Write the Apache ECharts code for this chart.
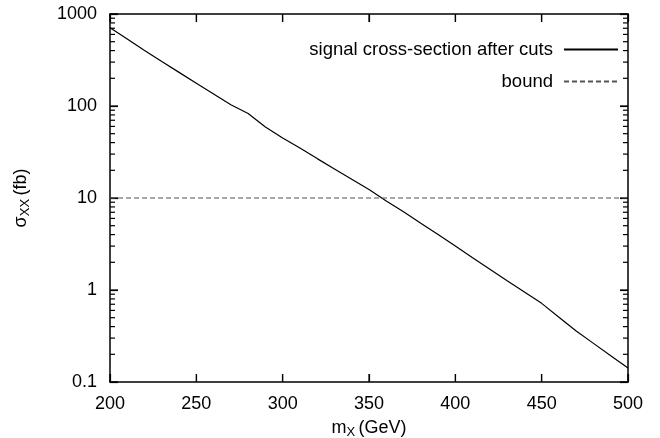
<!DOCTYPE html>
<html>
<head>
<meta charset="utf-8">
<script src="https://cdn.jsdelivr.net/npm/echarts@6/dist/echarts.min.js"></script>
<style>
	html, body { margin: 0; padding: 0; background: #ffffff; }
	#chart_1 { width: 660px; height: 438px; }
</style>
</head>
<body>
<div id="chart_1"></div>
<script>
// masses (GeV) and signal cross-section after cuts (fb)
var mass = [200, 210, 220, 230, 240, 250, 260, 270, 280, 290, 300, 310, 320, 330, 340, 350,
	360, 370, 380, 390, 400, 410, 420, 430, 440, 450, 460, 470, 480, 490, 500];
var sigma = [710, 535, 400, 304, 232, 177, 135, 103, 83, 59, 45, 35, 26.8, 20.7, 16, 12.4,
	9.3, 7.1, 5.3, 4.0, 3.0, 2.24, 1.68, 1.26, 0.95, 0.716, 0.506, 0.358, 0.263, 0.193, 0.142];
// the bound
var boundMass = [200, 500];
var boundValue = [10, 10];
// axis ticks
var xTicks = [200, 250, 300, 350, 400, 450, 500];
var yDecades = [0.1, 1, 10, 100, 1000];

var FONT = '"Liberation Sans", Arial, sans-serif';

function pairs(xs, ys) {
	var t = [];
	for (var i = 0; i < xs.length; i++) {
		t.push([xs[i], ys[i]]);
	}
	return t;
}
function axisLine() {
	return { show: true, onZero: false, lineStyle: { color: '#000', width: 1.5 } };
}
function majorTick() {
	return { show: true, inside: true, length: 8, lineStyle: { color: '#000', width: 1.2 } };
}

var dom = document.getElementById("chart_1");
var myChart = echarts.init(dom, null, { renderer: 'canvas' });

var option = {
	animation: false,
	backgroundColor: '#ffffff',
	textStyle: { fontFamily: FONT },
	grid: {
		left: 110,
		right: 32,
		top: 14,
		bottom: 56,
		containLabel: false,
		outerBoundsMode: 'none'
	},
	legend: {
		orient: 'vertical',
		right: 36,
		top: 35,
		align: 'right',
		itemWidth: 54,
		itemHeight: 16,
		itemGap: 13,
		itemStyle: { opacity: 0 },
		textStyle: { fontFamily: FONT, fontSize: 18.5, color: '#000', padding: [0, 6, 0, 0] },
		data: ['signal cross-section after cuts', 'bound']
	},
	xAxis: [{
		type: 'value',
		min: 200,
		max: 500,
		interval: 50,
		position: 'bottom',
		name: '{m|m}{s|X} {m|(GeV)}',
		nameLocation: 'middle',
		nameGap: 36,
		nameTextStyle: {
			rich: {
				m: { fontFamily: FONT, fontSize: 18, color: '#000' },
				s: { fontFamily: FONT, fontSize: 13, color: '#000', verticalAlign: 'bottom', padding: [8, 0, 0, 0] }
			}
		},
		axisLine: axisLine(),
		axisTick: majorTick(),
		splitLine: { show: false },
		axisLabel: {
			margin: 13,
			fontFamily: FONT,
			fontSize: 18,
			color: '#000',
			formatter: function (v) {
				return xTicks.indexOf(v) >= 0 ? String(v) : '';
			}
		}
	}, {
		type: 'value',
		min: 200,
		max: 500,
		interval: 50,
		position: 'top',
		axisLine: axisLine(),
		axisTick: majorTick(),
		axisLabel: { show: false },
		splitLine: { show: false }
	}],
	yAxis: [{
		type: 'log',
		logBase: 10,
		min: 0.1,
		max: 1000,
		position: 'left',
		name: '{m|σ}{s|XX} {m|(fb)}',
		nameLocation: 'middle',
		nameRotate: 90,
		nameGap: 78,
		nameTextStyle: {
			rich: {
				m: { fontFamily: FONT, fontSize: 18, color: '#000' },
				s: { fontFamily: FONT, fontSize: 13, color: '#000', verticalAlign: 'bottom', padding: [8, 0, 0, 0] }
			}
		},
		axisLine: axisLine(),
		axisTick: majorTick(),
		splitLine: { show: false },
		axisLabel: {
			margin: 13,
			fontFamily: FONT,
			fontSize: 18,
			color: '#000',
			formatter: function (v) {
				for (var i = 0; i < yDecades.length; i++) {
					if (Math.abs(v - yDecades[i]) < yDecades[i] * 1e-6) {
						return String(yDecades[i]);
					}
				}
				return '';
			}
		}
	}, {
		type: 'log',
		logBase: 10,
		min: 0.1,
		max: 1000,
		position: 'right',
		axisLine: axisLine(),
		axisTick: majorTick(),
		axisLabel: { show: false },
		splitLine: { show: false }
	}],
	series: [{
		name: 'signal cross-section after cuts',
		type: 'line',
		xAxisIndex: 0,
		yAxisIndex: 0,
		symbol: 'none',
		lineStyle: { color: '#000', width: 1.2, type: 'solid' },
		itemStyle: { color: '#000' },
		data: pairs(mass, sigma)
	}, {
		name: 'bound',
		type: 'line',
		xAxisIndex: 0,
		yAxisIndex: 0,
		symbol: 'none',
		lineStyle: { color: '#555', width: 1.2, type: [5, 3] },
		itemStyle: { color: '#555' },
		data: pairs(boundMass, boundValue)
	}]
};
myChart.setOption(option);

// tick marks on all four sides (gnuplot style), placed through the axis scales
var xl = myChart.convertToPixel({ xAxisIndex: 0 }, 200);
var xr = myChart.convertToPixel({ xAxisIndex: 0 }, 500);
var yb = myChart.convertToPixel({ yAxisIndex: 0 }, 0.1);
var yt = myChart.convertToPixel({ yAxisIndex: 0 }, 1000);
var ticks = [];
function tick(x1, y1, x2, y2) {
	ticks.push({ type: 'line', silent: true, shape: { x1: x1, y1: y1, x2: x2, y2: y2 }, style: { stroke: '#000', lineWidth: 1.2 } });
}
for (var i = 0; i < xTicks.length; i++) {
	var px = myChart.convertToPixel({ xAxisIndex: 0 }, xTicks[i]);
	tick(px, yb, px, yb - 8);
	tick(px, yt, px, yt + 8);
}
for (var d = 0; d < yDecades.length; d++) {
	var py = myChart.convertToPixel({ yAxisIndex: 0 }, yDecades[d]);
	tick(xl, py, xl + 8, py);
	tick(xr - 8, py, xr, py);
	if (d == yDecades.length - 1) break;
	for (var k = 2; k <= 9; k++) {
		var pm = myChart.convertToPixel({ yAxisIndex: 0 }, yDecades[d] * k);
		tick(xl, pm, xl + 5, pm);
		tick(xr - 5, pm, xr, pm);
	}
}
myChart.setOption({ graphic: { elements: ticks } });
</script>
</body>
</html>
